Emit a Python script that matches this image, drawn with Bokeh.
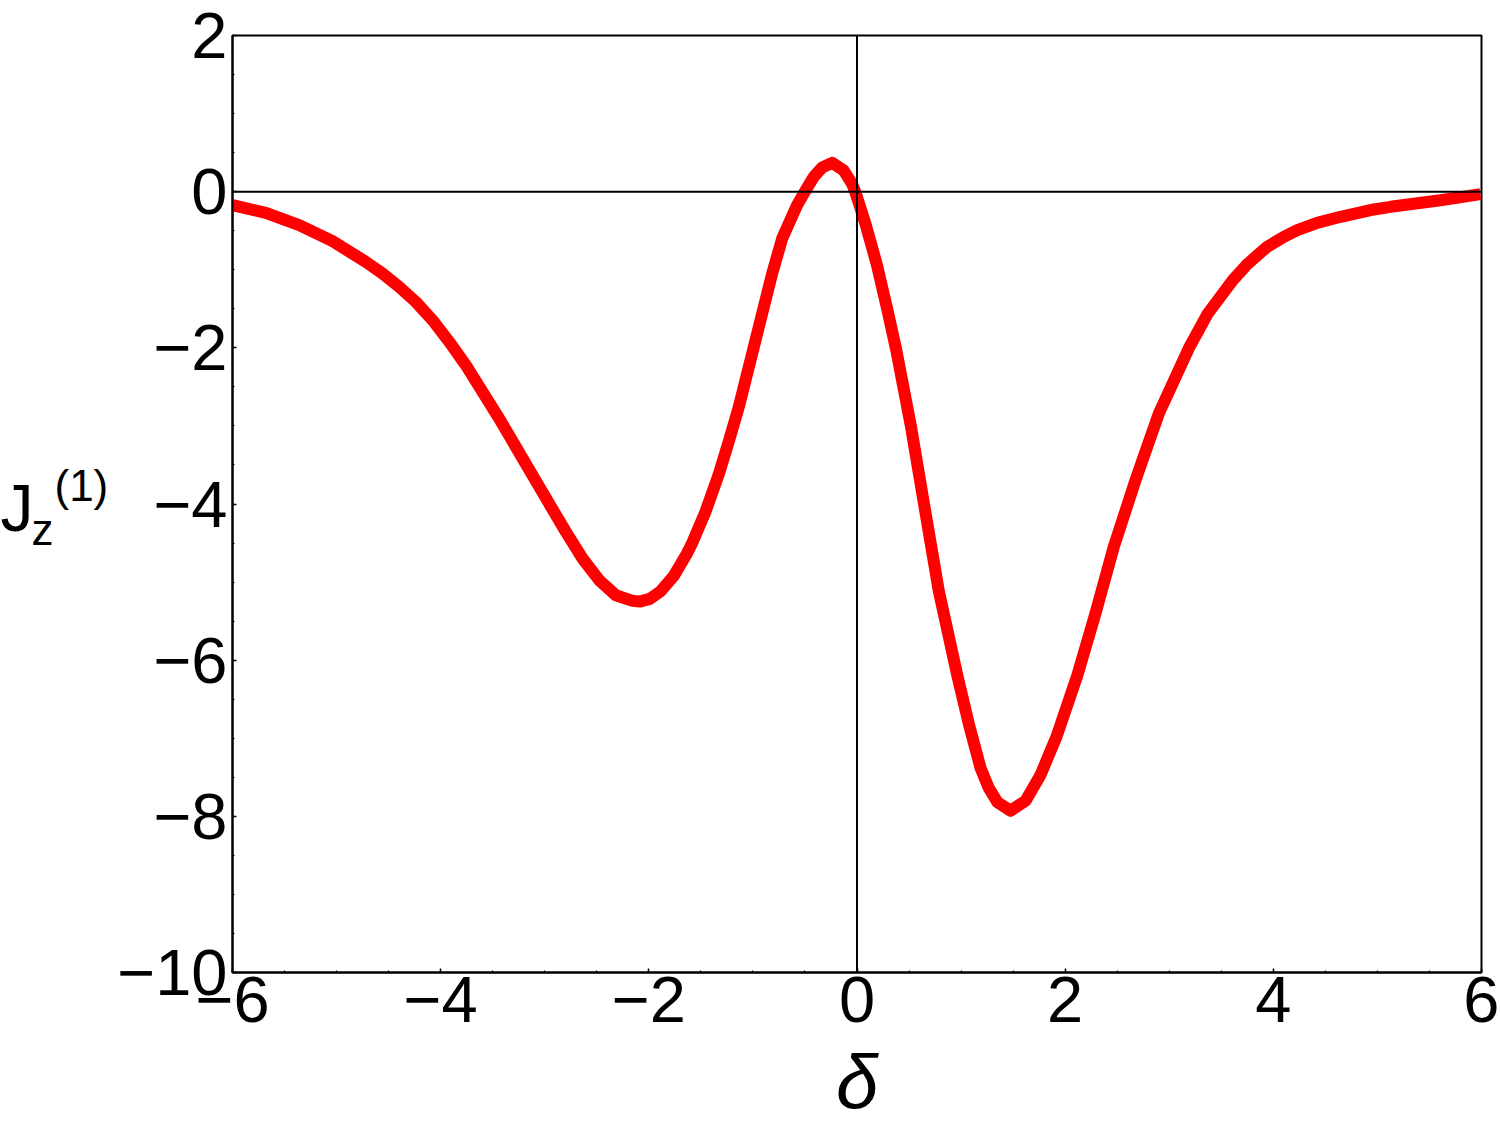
from bokeh.plotting import figure
from bokeh.layouts import row
from bokeh.models import Range1d, Span, Label, SingleIntervalTicker
from bokeh.embed import file_html
from bokeh.resources import INLINE

# ---- data ----
delta = [-6.000, -5.680, -5.359, -5.039, -4.719, -4.559, -4.399, -4.239, -4.078, -3.918,
         -3.758, -3.598, -3.438, -3.278, -3.118, -2.958, -2.797, -2.637, -2.477, -2.317,
         -2.157, -2.090, -1.990, -1.888, -1.760, -1.632, -1.584, -1.456, -1.328, -1.232,
         -1.136, -1.055, -0.975, -0.895, -0.815, -0.719, -0.575, -0.492, -0.415, -0.335,
         -0.239, -0.127, -0.047, -0.015, 0.081, 0.190, 0.290, 0.376, 0.520, 0.649,
         0.786, 0.963, 1.075, 1.187, 1.267, 1.350, 1.475, 1.620, 1.763, 1.917,
         2.116, 2.291, 2.467, 2.676, 2.900, 3.195, 3.371, 3.611, 3.749, 3.941,
         4.101, 4.230, 4.421, 4.646, 4.966, 5.126, 5.606, 5.990]
jz1 = [-0.173, -0.271, -0.429, -0.634, -0.899, -1.048, -1.219, -1.411, -1.646, -1.923,
       -2.222, -2.564, -2.905, -3.268, -3.631, -3.994, -4.357, -4.698, -4.976, -5.168,
       -5.240, -5.250, -5.215, -5.120, -4.920, -4.630, -4.500, -4.100, -3.620, -3.200,
       -2.760, -2.329, -1.902, -1.475, -1.050, -0.600, -0.170, 0.020, 0.190, 0.310,
       0.369, 0.270, 0.100, -0.010, -0.410, -0.930, -1.500, -2.020, -3.020, -4.040,
       -5.115, -6.192, -6.820, -7.380, -7.640, -7.820, -7.929, -7.800, -7.470, -6.980,
       -6.200, -5.403, -4.549, -3.695, -2.841, -1.987, -1.560, -1.133, -0.930, -0.706,
       -0.578, -0.493, -0.399, -0.322, -0.228, -0.194, -0.109, -0.032]

x_ticks = [-6, -4, -2, 0, 2, 4, 6]
x_tick_labels = ["\u22126", "\u22124", "\u22122", "0", "2", "4", "6"]
y_ticks = [-10, -8, -6, -4, -2, 0, 2]
y_tick_labels = ["\u221210", "\u22128", "\u22126", "\u22124", "\u22122", "0", "2"]

FONT = "Liberation Sans"
FS = "65px"
LABEL_W = 114
FIG_H = 1126

p = figure(width=1499 - LABEL_W, height=FIG_H, output_backend="svg", toolbar_location=None,
           x_range=Range1d(-6, 6), y_range=Range1d(-10, 2),
           min_border_left=232 - LABEL_W, min_border_right=18, min_border_top=35,
           min_border_bottom=FIG_H - 35 - 937)
p.grid.visible = False
p.background_fill_color = "white"
p.border_fill_color = "white"
p.outline_line_color = "black"
p.outline_line_width = 2

p.line(delta, jz1, line_color="#ff0000", line_width=12, line_join="round")

for dim in ("width", "height"):
    p.add_layout(Span(location=0, dimension=dim, line_color="black", line_width=2))

for ax, ticks, labels in ((p.xaxis[0], x_ticks, x_tick_labels), (p.yaxis[0], y_ticks, y_tick_labels)):
    ax.ticker = SingleIntervalTicker(interval=2, num_minor_ticks=4)
    ax.major_label_overrides = dict(zip(ticks, labels))
    ax.major_label_text_font = FONT
    ax.major_label_text_font_size = FS
    ax.major_label_text_color = "black"
    ax.axis_line_color = "black"
    ax.axis_line_width = 2
    ax.major_tick_in = 4
    ax.major_tick_out = 0
    ax.minor_tick_in = 2
    ax.minor_tick_out = 0
    ax.major_tick_line_width = 1.5
    ax.minor_tick_line_width = 1.2

p.xaxis.major_label_standoff = 4
p.yaxis.major_label_standoff = 5
p.xaxis.axis_label = "\u03b4"
p.xaxis.axis_label_text_font = FONT
p.xaxis.axis_label_text_font_size = "76px"
p.xaxis.axis_label_text_font_style = "italic"
p.xaxis.axis_label_text_color = "black"
p.xaxis.axis_label_standoff = 14

# narrow side panel holding the horizontal y-axis title J_z^(1)
lab = figure(width=LABEL_W, height=FIG_H, output_backend="svg", toolbar_location=None,
             x_range=Range1d(0, LABEL_W), y_range=Range1d(0, FIG_H),
             x_axis_location=None, y_axis_location=None, min_border=0)
lab.grid.visible = False
lab.outline_line_color = None
lab.background_fill_color = "white"
lab.border_fill_color = "white"
for txt, cx, cy, fs in (("J", 0, 507, "66px"), ("z", 31, 529, "44px"), ("(1)", 54, 485, "44px")):
    lab.add_layout(Label(x=cx, y=cy, x_units="canvas", y_units="canvas", text=txt,
                         text_font=FONT, text_font_size=fs, text_align="left",
                         text_baseline="middle", text_color="black"))

layout = row(lab, p, spacing=0)
open("out.html", "w").write(file_html(layout, INLINE))
